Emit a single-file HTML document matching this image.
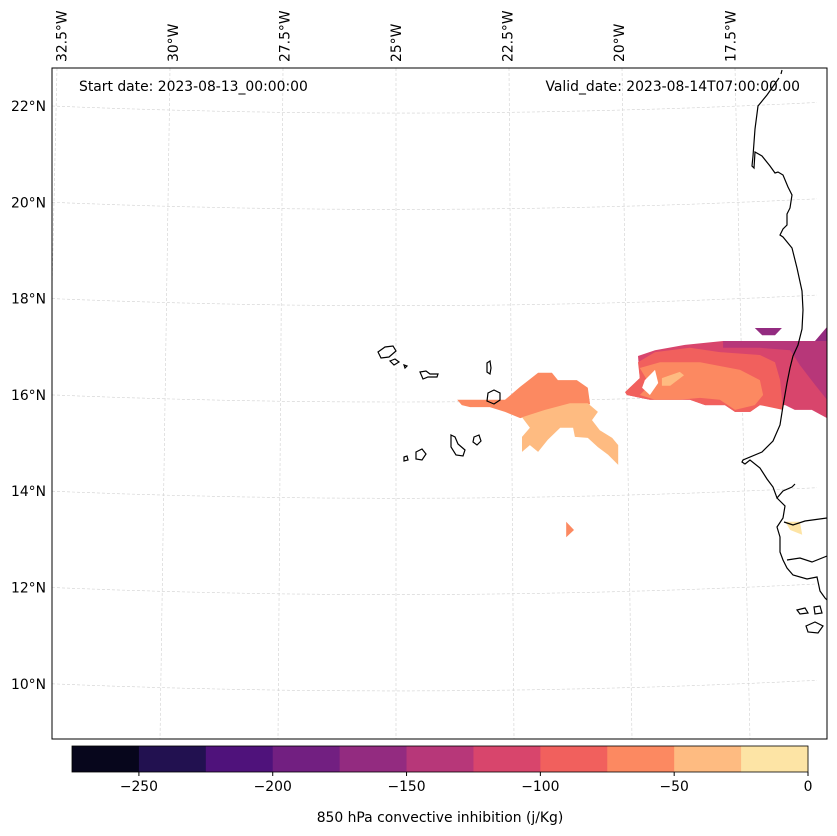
<!DOCTYPE html>
<html><head><meta charset="utf-8"><style>
html,body{margin:0;padding:0;background:#fff;}
svg{display:block;font-family:"DejaVu Sans","Liberation Sans",sans-serif;}
</style></head><body>
<svg id="chart" width="837" height="836" viewBox="0 0 837 836" xmlns="http://www.w3.org/2000/svg">
<defs><clipPath id="mapclip"><rect x="52" y="68" width="775" height="671"/></clipPath></defs>
<g id="grid" clip-path="url(#mapclip)"></g>
<g id="fills" clip-path="url(#mapclip)"></g>
<g id="coast" clip-path="url(#mapclip)" fill="none" stroke="#000" stroke-width="1.2">
<path d="M782,70 L781,74 M779,78 L767,95 L758,106 L755,129 L753,156 L752,166 L754,168 L755,152 L762,156 L770,166 L775,173 L778,172 L783,175 L788,187 L792,195 L790,208 L787,214 L787,225 L783,229 L780,235 L783,237 L792,248 L797,268 L802,291 L803,310 L802,329 L798,345 L793,356 L790,368 L787,383 L783,406 L780,425 L773,441 L762,452 L743,460 L742,462 L745,464 L750,460 L760,468 L767,479 L773,487 L777,498 L783,491 L792,487 L795,484 M777,498 L785,506 L783,518 L777,527 L780,537 L780,552 L783,560 L787,568 L793,575 L807,579 L817,577 L820,591 L825,598 L827,600 M784,522 L793,525 L805,521 L827,518 M787,560 L800,558 L812,562 L827,556"/>
<path d="M797,610 L805,608 L808,613 L800,614 Z M814,607 L820,606 L822,613 L815,614 Z M806,626 L815,622 L823,626 L818,633 L808,632 Z"/>
<path d="M378,352 L385,347 L393,346 L396,351 L389,357 L381,358 Z"/>
<path d="M390,361 L395,359 L399,362 L394,365 Z"/>
<path d="M404,365 L407,366 L405,368 Z"/>
<path d="M420,372 L426,371 L430,374 L438,374 L437,377 L428,377 L423,379 Z"/>
<path d="M487,363 L490,361 L491,368 L490,374 L487,372 Z"/>
<path d="M488,393 L494,390 L500,393 L500,400 L494,404 L487,401 Z"/>
<path d="M474,437 L479,435 L481,441 L477,445 L473,442 Z"/>
<path d="M451,435 L455,437 L458,444 L465,450 L463,456 L456,455 L451,447 Z"/>
<path d="M416,452 L422,449 L426,454 L422,460 L416,459 Z"/>
<path d="M404,457 L407,456 L408,460 L404,461 Z"/>
</g>
<rect x="52" y="68" width="775" height="671" fill="none" stroke="#000" stroke-width="1"/>
<g id="lonlabels" font-size="13.9" fill="#000"></g>
<g id="latlabels" font-size="13.9" fill="#000"></g>
<text x="79" y="91" font-size="13.9">Start date: 2023-08-13_00:00:00</text>
<text x="800" y="91" font-size="13.9" text-anchor="end">Valid_date: 2023-08-14T07:00:00.00</text>
<g id="cbar"></g>
<text x="440" y="822" font-size="13.9" text-anchor="middle">850 hPa convective inhibition (j/Kg)</text>
</svg>
<script>
const NS="http://www.w3.org/2000/svg";
const levelBounds=[-275,-250,-225,-200,-175,-150,-125,-100,-75,-50,-25,0];
const levelColors=["#07061c","#221150","#4f127b","#721f81","#932b80","#b73779","#d8456c","#f1605d","#fc8961","#febb81","#fde4a5"];
const cbarTicks=[-250,-200,-150,-100,-50,0];
const lonTicks=[-32.5,-30,-27.5,-25,-22.5,-20,-17.5];
const lonTickText=["32.5°W","30°W","27.5°W","25°W","22.5°W","20°W","17.5°W"];
const latTicks=[22,20,18,16,14,12,10];
const latTickText=["22°N","20°N","18°N","16°N","14°N","12°N","10°N"];
const polyValues=[-110,-135,-160,-160,-90,-60,-35,-60,-35,-60,-10];
const polyLons=[
 [-19.74,-19.37,-18.72,-17.89,-15.89,-15.63,-15.63,-15.96,-16.33,-16.54,-17.09,-17.30,-17.63,-17.85,-18.28,-18.61,-19.48,-19.98,-20.02,-19.70],
 [-17.89,-15.89,-15.63,-15.63,-15.89,-16.22,-16.43,-17.09,-17.89],
 [-15.63,-15.89,-15.63],
 [-17.20,-16.61,-16.76,-17.04],
 [-19.74,-19.37,-18.61,-17.96,-17.09,-16.76,-16.65,-16.59,-17.09,-17.30,-17.63,-17.85,-18.28,-18.61,-19.48,-19.98,-20.02,-19.70],
 [-19.70,-19.26,-18.39,-17.52,-17.09,-17.02,-17.20,-17.63,-17.96,-18.39,-18.83,-19.37,-19.70,-19.48],
 [-19.22,-18.83,-18.74,-19.04,-19.22],
 [-23.67,-22.63,-22.30,-21.91,-21.61,-21.48,-21.07,-20.83,-20.78,-21.22,-21.76,-22.30,-22.63,-22.96,-23.39,-23.57],
 [-22.26,-21.76,-21.22,-20.83,-20.61,-20.74,-20.57,-20.30,-20.17,-20.17,-20.39,-20.61,-20.83,-21.11,-21.15,-21.43,-21.70,-21.91,-22.09,-22.26,-22.26,-22.09],
 [-21.30,-21.13,-21.30],
 [-16.54,-16.22,-16.17,-16.43]
];
const polyLats=[
 [16.98,17.10,17.21,17.29,17.29,17.58,15.69,15.86,15.86,15.96,15.96,15.82,15.82,15.96,15.96,16.07,16.07,16.17,16.23,16.52],
 [17.29,17.29,17.52,16.07,16.38,16.79,17.10,17.15,17.15],
 [17.58,17.29,17.29],
 [17.56,17.56,17.41,17.41],
 [16.85,17.06,17.15,17.06,17.00,16.85,16.48,15.86,15.96,15.82,15.82,15.96,15.96,16.07,16.07,16.17,16.23,16.52],
 [16.73,16.85,16.85,16.69,16.48,16.17,15.96,15.86,16.07,16.11,16.07,16.07,16.17,16.38],
 [16.52,16.65,16.58,16.36,16.36],
 [16.07,16.07,16.34,16.63,16.63,16.48,16.48,16.32,15.98,15.96,15.82,15.69,15.82,15.92,15.92,15.96],
 [15.71,15.86,16.00,16.00,15.82,15.65,15.44,15.28,15.13,14.72,14.93,15.09,15.28,15.30,15.49,15.49,15.24,14.99,15.13,14.99,15.30,15.49],
 [13.54,13.37,13.22],
 [13.54,13.54,13.27,13.37]
];
const holeLons=[-19.59,-19.37,-19.30,-19.48,-19.65];
const holeLats=[16.48,16.69,16.42,16.17,16.32];

function px(lon,lat){return 396+(lon+25)*46;}
function py(lon,lat){return 114+(22-lat)*48.2;}
function colorFor(v){for(let i=0;i<levelColors.length;i++){if(v>=levelBounds[i]&&v<levelBounds[i+1])return levelColors[i];}return levelColors[levelColors.length-1];}
function pts(lons,lats){return lons.map((l,i)=>px(l,lats[i]).toFixed(1)+","+py(l,lats[i]).toFixed(1)).join(" ");}

const fills=document.getElementById("fills");
polyValues.forEach((v,i)=>{
 const p=document.createElementNS(NS,"polygon");
 p.setAttribute("points",pts(polyLons[i],polyLats[i]));
 p.setAttribute("fill",colorFor(v));
 
 
 fills.appendChild(p);
});
{const h=document.createElementNS(NS,"polygon");
 h.setAttribute("points",pts(holeLons,holeLats));h.setAttribute("fill","#fff");
 
 
 fills.appendChild(h);}

const grid=document.getElementById("grid");
function gline(d){const p=document.createElementNS(NS,"path");p.setAttribute("d",d);p.setAttribute("fill","none");p.setAttribute("stroke","#d0d0d0");p.setAttribute("stroke-width","0.6");p.setAttribute("stroke-dasharray","3,2");return p;}
lonTicks.forEach(lon=>{
 const xt=396+(lon+25)*45.2, xb=396+(lon+25)*47.2;
 const p=gline(`M${xt},68 L${xb},739`);
 
 
 grid.appendChild(p);
});
const c=6e-5;
latTicks.forEach((lat,i)=>{
 const y0=106+(22-lat)*96.3/2;
 let d="";
 for(let x=52;x<=827;x+=15){const y=y0+c*((344*344)-(x-396)*(x-396));d+=(d?" L":"M")+x+","+y.toFixed(1);}
 const p=gline(d);
 
 
 grid.appendChild(p);
});
const lonG=document.getElementById("lonlabels");
lonTicks.forEach((lon,i)=>{
 const t=document.createElementNS(NS,"text");
 const x=396+(lon+25)*44.6+5;
 t.setAttribute("transform",`translate(${x.toFixed(1)},62) rotate(-90)`);
 t.textContent=lonTickText[i];
 
 
 lonG.appendChild(t);
});
const latG=document.getElementById("latlabels");
latTicks.forEach((lat,i)=>{
 const t=document.createElementNS(NS,"text");
 t.setAttribute("x","46");t.setAttribute("y",(106+(22-lat)*48.15+5).toFixed(1));
 t.setAttribute("text-anchor","end");
 t.textContent=latTickText[i];
 
 
 latG.appendChild(t);
});
const cb=document.getElementById("cbar");
const cx0=72,cx1=808,cy=746,ch=26;
function cbx(v){return cx0+(v-levelBounds[0])/(levelBounds[levelBounds.length-1]-levelBounds[0])*(cx1-cx0);}
levelColors.forEach((col,i)=>{
 const r=document.createElementNS(NS,"rect");
 const a=cbx(levelBounds[i]),b=cbx(levelBounds[i+1]);
 r.setAttribute("x",a);r.setAttribute("y",cy);r.setAttribute("width",b-a+0.5);r.setAttribute("height",ch);r.setAttribute("fill",col);
 
 
 cb.appendChild(r);
});
{const r=document.createElementNS(NS,"rect");r.setAttribute("x",cx0);r.setAttribute("y",cy);r.setAttribute("width",cx1-cx0);r.setAttribute("height",ch);r.setAttribute("fill","none");r.setAttribute("stroke","#000");r.setAttribute("stroke-width","0.8");
 
 
 cb.appendChild(r);}
cbarTicks.forEach(v=>{
 const x=cbx(v);
 const l=document.createElementNS(NS,"line");
 l.setAttribute("x1",x);l.setAttribute("x2",x);l.setAttribute("y1",cy+ch);l.setAttribute("y2",cy+ch+4);l.setAttribute("stroke","#000");
 
 
 cb.appendChild(l);
 const t=document.createElementNS(NS,"text");
 t.setAttribute("x",x);t.setAttribute("y",cy+ch+19);t.setAttribute("text-anchor","middle");t.setAttribute("font-size","13.9");
 t.textContent=(v<0?"\u2212"+Math.abs(v):String(v));
 
 
 cb.appendChild(t);
});
</script>
</body></html>
